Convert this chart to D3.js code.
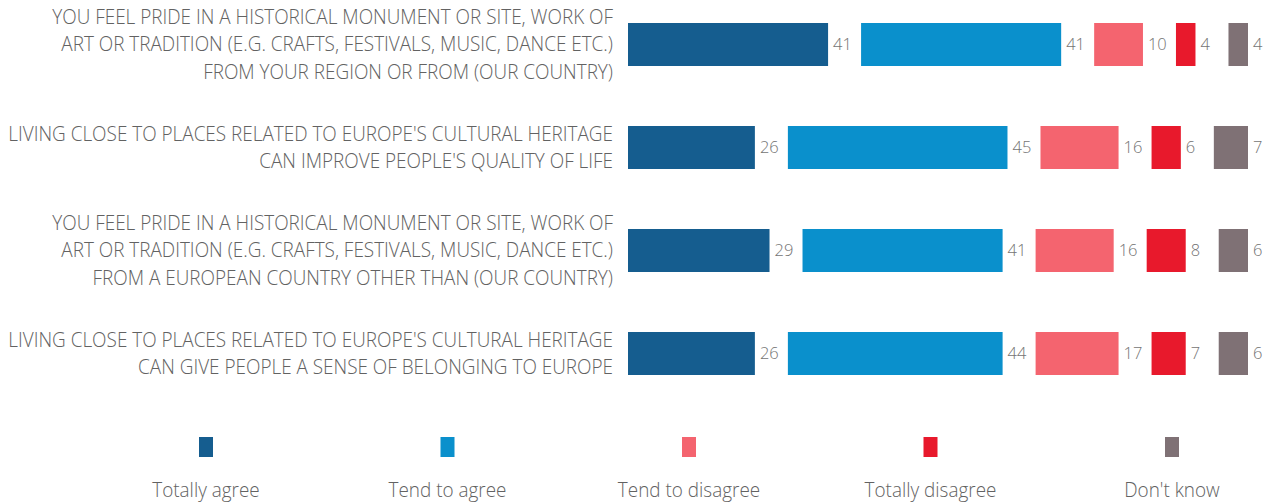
<!DOCTYPE html>
<html><head><meta charset="utf-8">
<script src="https://cdn.jsdelivr.net/npm/d3@7"></script>
<style>
html,body{margin:0;padding:0;background:#fff;}
svg{display:block;}
</style></head>
<body>
<svg id="chart" width="1274" height="504"></svg>
<script>
// ---------- data ----------
const categories = [
  ["YOU FEEL PRIDE IN A HISTORICAL MONUMENT OR SITE, WORK OF",
   "ART OR TRADITION (E.G. CRAFTS, FESTIVALS, MUSIC, DANCE ETC.)",
   "FROM YOUR REGION OR FROM (OUR COUNTRY)"],
  ["LIVING CLOSE TO PLACES RELATED TO EUROPE'S CULTURAL HERITAGE",
   "CAN IMPROVE PEOPLE'S QUALITY OF LIFE"],
  ["YOU FEEL PRIDE IN A HISTORICAL MONUMENT OR SITE, WORK OF",
   "ART OR TRADITION (E.G. CRAFTS, FESTIVALS, MUSIC, DANCE ETC.)",
   "FROM A EUROPEAN COUNTRY OTHER THAN (OUR COUNTRY)"],
  ["LIVING CLOSE TO PLACES RELATED TO EUROPE'S CULTURAL HERITAGE",
   "CAN GIVE PEOPLE A SENSE OF BELONGING TO EUROPE"]
];
const seriesNames = ["Totally agree", "Tend to agree", "Tend to disagree", "Totally disagree", "Don't know"];
const totallyAgree    = [41, 26, 29, 26];
const tendToAgree     = [41, 45, 41, 44];
const tendToDisagree  = [10, 16, 16, 17];
const totallyDisagree = [4, 6, 8, 7];
const dontKnow        = [4, 7, 6, 6];
const seriesValues = [totallyAgree, tendToAgree, tendToDisagree, totallyDisagree, dontKnow];
const colors = ["#155d8f", "#0a90cc", "#f4646f", "#e8192c", "#7f7175"];

// ---------- layout ----------
const svg = d3.select("#chart");
const barLeft = 628, labelRight = 613, gap = 33;
const textColor = "#626262";
const fontFam = "'Open Sans', 'Noto Sans', sans-serif";

const x = d3.scaleLinear().domain([0, 100]).range([0, 488]);
const rows = d3.range(categories.length);
const y = d3.scaleBand().domain(rows).range([-7, 405]).paddingInner(0).paddingOuter(0);
const barH = 43;

// measure condensation factor
const probe = svg.append("text").attr("font-family", fontFam).attr("font-size", 19.5).attr("font-weight", 300)
  .text(categories[1][0]);
const natural = probe.node().getComputedTextLength();
probe.remove();
const k = 605 / natural;

const rowG = svg.selectAll("g.row").data(rows).join("g").attr("class", "row")
  .attr("transform", r => `translate(0,${y(r) + y.bandwidth() / 2})`);

// category labels
const lineH = 27.5;
rowG.each(function (r) {
  const g = d3.select(this).append("g").attr("transform", `translate(${labelRight},0) scale(${k},1)`);
  const lines = categories[r];
  g.selectAll("text").data(lines).join("text")
    .attr("x", 0)
    .attr("y", (d, i) => (i - (lines.length - 1) / 2) * lineH)
    .attr("dy", "0.35em")
    .attr("text-anchor", "end")
    .attr("font-family", fontFam).attr("font-size", 19.5).attr("font-weight", 300)
    .attr("fill", textColor)
    .text(d => d);
});

// bars
rowG.each(function (r) {
  const g = d3.select(this);
  let pos = barLeft;
  seriesValues.forEach((vals, s) => {
    const v = vals[r];
    const w = x(v);
    g.append("rect")
      .attr("x", pos).attr("y", -barH / 2)
      .attr("width", w).attr("height", barH)
      .attr("fill", colors[s]);
    const tg = g.append("g").attr("transform", `translate(${pos + w + 5},0) scale(${k},1)`);
    tg.append("text")
      .attr("dy", "0.35em")
      .attr("font-family", fontFam).attr("font-size", 17).attr("font-weight", 300)
      .attr("fill", "#747474")
      .text(v);
    pos += w + gap;
  });
});

// legend
const lx = d3.scalePoint().domain(seriesNames).range([206, 1172]);
const leg = svg.selectAll("g.leg").data(seriesNames).join("g").attr("class", "leg")
  .attr("transform", d => `translate(${lx(d)},0)`);
leg.append("rect").attr("x", -7).attr("y", 437).attr("width", 14).attr("height", 20)
  .attr("fill", (d, i) => colors[i]);
leg.append("g").attr("transform", `translate(0,490) scale(${k},1)`)
  .append("text")
  .attr("text-anchor", "middle")
  .attr("dy", "0.35em")
  .attr("font-family", fontFam).attr("font-size", 19.5).attr("font-weight", 300)
  .attr("fill", textColor)
  .text(d => d);
</script>
</body></html>
